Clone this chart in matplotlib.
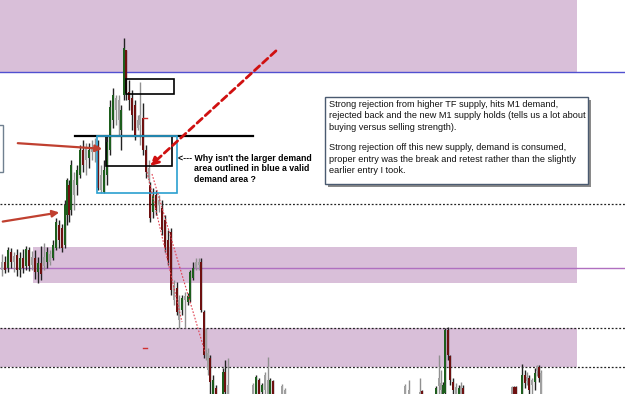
import matplotlib
matplotlib.use("Agg")
import matplotlib.pyplot as plt
from matplotlib.patches import Rectangle

plt.rcParams['font.family'] = ['Liberation Sans', 'DejaVu Sans']

# candles (x position, open, high, low, close in price-pixel units)
# kind: g = bull, r = bear, n = grey/doji
cx = [2, 5, 8, 11, 14, 17, 20, 23, 26, 29, 32, 35, 38, 41, 44, 47, 50, 53, 56, 59,
      62, 65, 67, 69, 71, 74, 77, 80, 83, 86, 89, 92, 95, 98, 101, 104, 107, 110, 113, 116,
      119, 121, 124, 126, 129, 132, 135, 138, 140, 143, 146, 149,
      150, 153, 156, 159, 162, 165, 168, 171, 174, 177, 179, 182, 185, 188, 190, 193, 196, 199,
      201, 204, 206, 208, 210, 213, 216, 223, 225, 228,
      253, 256, 259, 262, 265, 268, 270, 273, 282, 285,
      405, 409, 420, 422, 436, 439, 441, 443, 445, 448, 450, 453, 456, 459, 461, 463,
      512, 514, 516, 522, 525, 527, 529, 532, 535, 537, 539, 541]
co = [270, 262, 268, 252, 262, 255, 270, 258, 266, 250, 265, 258, 272, 263, 266, 262, 254, 258, 248, 225,
      228, 245, 215, 185, 210, 195, 185, 175, 150, 160, 150, 152, 150, 145, 175, 192, 175, 150, 120, 110,
      100, 130, 95, 50, 92, 98, 105, 120, 125, 118, 150, 168,
      185, 212, 195, 205, 208, 220, 240, 232, 285, 288, 300, 310, 300, 302, 300, 278, 268, 265,
      262, 312, 330, 353, 358, 380, 388, 394, 372, 385,
      385, 394, 380, 392, 375, 380, 394, 381, 386, 390,
      386, 390, 392, 391, 394, 386, 390, 394, 393, 330, 356, 382, 387, 394, 386, 388,
      387, 387, 387, 394, 375, 377, 378, 385, 382, 371, 367, 373]
ch = [254, 256, 247, 248, 252, 249, 252, 249, 246, 247, 251, 250, 257, 246, 243, 247, 250, 240, 218, 220,
      224, 200, 178, 180, 160, 172, 165, 145, 140, 143, 143, 140, 138, 140, 165, 160, 135, 100, 88, 95,
      95, 105, 38, 50, 80, 90, 100, 115, 82, 103, 145, 160,
      182, 188, 190, 195, 200, 215, 230, 228, 280, 282, 295, 295, 292, 293, 270, 262, 258, 258,
      258, 310, 328, 348, 355, 375, 385, 368, 360, 358,
      383, 375, 378, 383, 372, 357, 378, 380, 384, 388,
      384, 380, 378, 390, 386, 355, 370, 382, 328, 327, 355, 378, 383, 385, 382, 385,
      386, 386, 386, 364, 370, 372, 375, 378, 368, 365, 365, 370]
cl = [276, 273, 272, 268, 272, 276, 277, 273, 270, 271, 270, 279, 283, 280, 270, 268, 265, 260, 250, 248,
      252, 248, 225, 222, 215, 210, 195, 178, 172, 175, 168, 160, 162, 190, 193, 193, 185, 155, 128, 125,
      135, 150, 100, 100, 110, 130, 140, 130, 145, 155, 178, 183,
      222, 218, 215, 212, 235, 252, 265, 295, 305, 315, 328, 315, 328, 305, 302, 280, 270, 270,
      312, 358, 360, 375, 400, 400, 400, 400, 400, 400,
      400, 400, 400, 400, 400, 400, 400, 400, 400, 400,
      400, 400, 400, 400, 400, 400, 400, 400, 400, 360, 385, 394, 400, 400, 400, 400,
      400, 400, 400, 400, 388, 385, 394, 394, 390, 376, 382, 400]
cc = [262, 270, 250, 262, 256, 270, 258, 268, 249, 266, 257, 272, 263, 274, 257, 252, 262, 245, 222, 240,
      248, 205, 180, 215, 165, 180, 170, 150, 165, 148, 158, 148, 146, 188, 190, 170, 142, 107, 95, 98,
      120, 110, 48, 93, 100, 115, 135, 128, 115, 150, 172, 178,
      218, 195, 210, 200, 230, 248, 260, 290, 300, 312, 320, 298, 296, 296, 272, 268, 262, 262,
      310, 355, 350, 370, 382, 394, 394, 372, 392, 394,
      394, 377, 394, 385, 390, 395, 380, 394, 394, 394,
      394, 394, 394, 394, 388, 378, 383, 385, 330, 355, 380, 390, 394, 388, 394, 394,
      394, 394, 394, 375, 383, 381, 390, 380, 373, 366, 378, 394]
ckind = ['n', 'r', 'g', 'r', 'n', 'r', 'g', 'r', 'g', 'r', 'n', 'r', 'g', 'r', 'n', 'g', 'n', 'g', 'g', 'r',
         'r', 'g', 'g', 'r', 'g', 'n', 'g', 'g', 'r', 'n', 'g', 'n', 'n', 'r', 'n', 'g', 'g', 'g', 'g', 'n',
         'n', 'g', 'g', 'r', 'r', 'r', 'r', 'n', 'n', 'r', 'r', 'n',
         'r', 'g', 'r', 'n', 'r', 'r', 'r', 'r', 'n', 'r', 'n', 'g', 'n', 'g', 'g', 'g', 'n', 'n',
         'r', 'r', 'n', 'n', 'r', 'g', 'r', 'g', 'r', 'n',
         'n', 'g', 'r', 'g', 'n', 'n', 'g', 'r', 'n', 'n',
         'n', 'n', 'n', 'r', 'g', 'n', 'n', 'g', 'g', 'r', 'r', 'r', 'n', 'g', 'n', 'r',
         'n', 'r', 'r', 'g', 'r', 'n', 'r', 'n', 'g', 'n', 'r', 'n']

# zones: (left, right, top, bottom)
zones = [(0, 577, 0, 72), (33, 577, 247, 283), (0, 577, 328, 367)]
dotted_levels = [204, 328, 367]

box_lines = ["Strong rejection from higher TF supply, hits M1 demand,",
             "rejected back and the new M1 supply holds (tells us a lot about",
             "buying versus selling strength).",
             "",
             "Strong rejection off this new supply, demand is consumed,",
             "proper entry was the break and retest rather than the slightly",
             "earlier entry I took."]
note_lines = ["<--- Why isn't the larger demand", "area outlined in blue a valid", "demand area ?"]

colors = {'g': '#1d5e1d', 'r': '#6e1010', 'n': '#a0a0a0'}
wick = {'g': '#222222', 'r': '#222222', 'n': '#909090'}

fig = plt.figure(figsize=(6.25, 3.94), dpi=100)
ax = fig.add_axes([0, 0, 1, 1])
ax.set_xlim(0, 625)
ax.set_ylim(394, 0)
ax.axis('off')

for (x0, x1, y0, y1) in zones:
    ax.add_patch(Rectangle((x0, y0), x1 - x0, y1 - y0, fc='#d9bfd9', ec='none', zorder=0))
ax.axhline(72, color='#5050d0', lw=1, zorder=1)
ax.axhline(268, color='#b070c0', lw=1, zorder=1)
for y in dotted_levels:
    ax.axhline(y, color='#222222', lw=0.9, ls=(0, (1.5, 1.5)), zorder=1)

# candles
for i in range(len(cx)):
    k = ckind[i]
    ax.vlines(cx[i], ch[i], cl[i], color=wick[k], lw=1.0, zorder=3)
    lo, hi = min(co[i], cc[i]), max(co[i], cc[i])
    ax.bar(cx[i], max(hi - lo, 1), width=2.4, bottom=lo, color=colors[k], zorder=4)

# drawn objects
ax.plot([75, 253], [136, 136], color='black', lw=1.6, zorder=5)
ax.add_patch(Rectangle((106, 136), 66, 30, fill=False, ec='black', lw=1.2, zorder=5))
ax.add_patch(Rectangle((126, 79), 48, 15, fill=False, ec='black', lw=1.2, zorder=5))
ax.add_patch(Rectangle((97, 136), 80, 57, fill=False, ec='#2aa0d0', lw=1.2, zorder=5))

# red dotted trend lines
ax.plot([147, 182], [172, 322], color='#e04050', lw=0.8, ls=(0, (1.5, 1.5)), zorder=5)
ax.plot([152, 205], [174, 352], color='#e04050', lw=0.8, ls=(0, (1.5, 1.5)), zorder=5)
ax.plot([143, 147], [118, 118], color='#d03030', lw=1, zorder=5)
ax.plot([143, 147], [348, 348], color='#d03030', lw=1, zorder=5)

# arrows
ax.annotate('', xy=(105, 149), xytext=(15, 143),
            arrowprops=dict(arrowstyle='-|>', color='#c04030', lw=1.6, mutation_scale=10), zorder=6)
ax.annotate('', xy=(62, 212), xytext=(0, 222),
            arrowprops=dict(arrowstyle='-|>', color='#c04030', lw=1.6, mutation_scale=10), zorder=6)
ax.annotate('', xy=(148, 168), xytext=(278, 49),
            arrowprops=dict(arrowstyle='-|>', color='#d01010', lw=2, ls=(0, (2.5, 1.5)),
                            mutation_scale=12), zorder=6)

# notes
for j, line in enumerate(note_lines):
    ax.text(178 if j == 0 else 194, 158 + j * 10.5, line, fontsize=6.3, fontweight='bold',
            va='center', ha='left', zorder=7)

# text box with shadow
ax.add_patch(Rectangle((328, 100), 263, 87, fc='#8a8a8a', ec='none', zorder=6))
ax.add_patch(Rectangle((325, 97), 263, 87, fc='white', ec='#4a5a70', lw=1, zorder=7))
for j, line in enumerate(box_lines):
    ax.text(329, 104 + j * 11.8 - (0 if j < 3 else 4), line, fontsize=6.6, va='center',
            ha='left', color='#111111', zorder=8)

# partial box on left edge
ax.add_patch(Rectangle((-5, 125), 8, 47, fc='white', ec='#708090', lw=1, zorder=7))

fig.savefig('out.png', dpi=100)
